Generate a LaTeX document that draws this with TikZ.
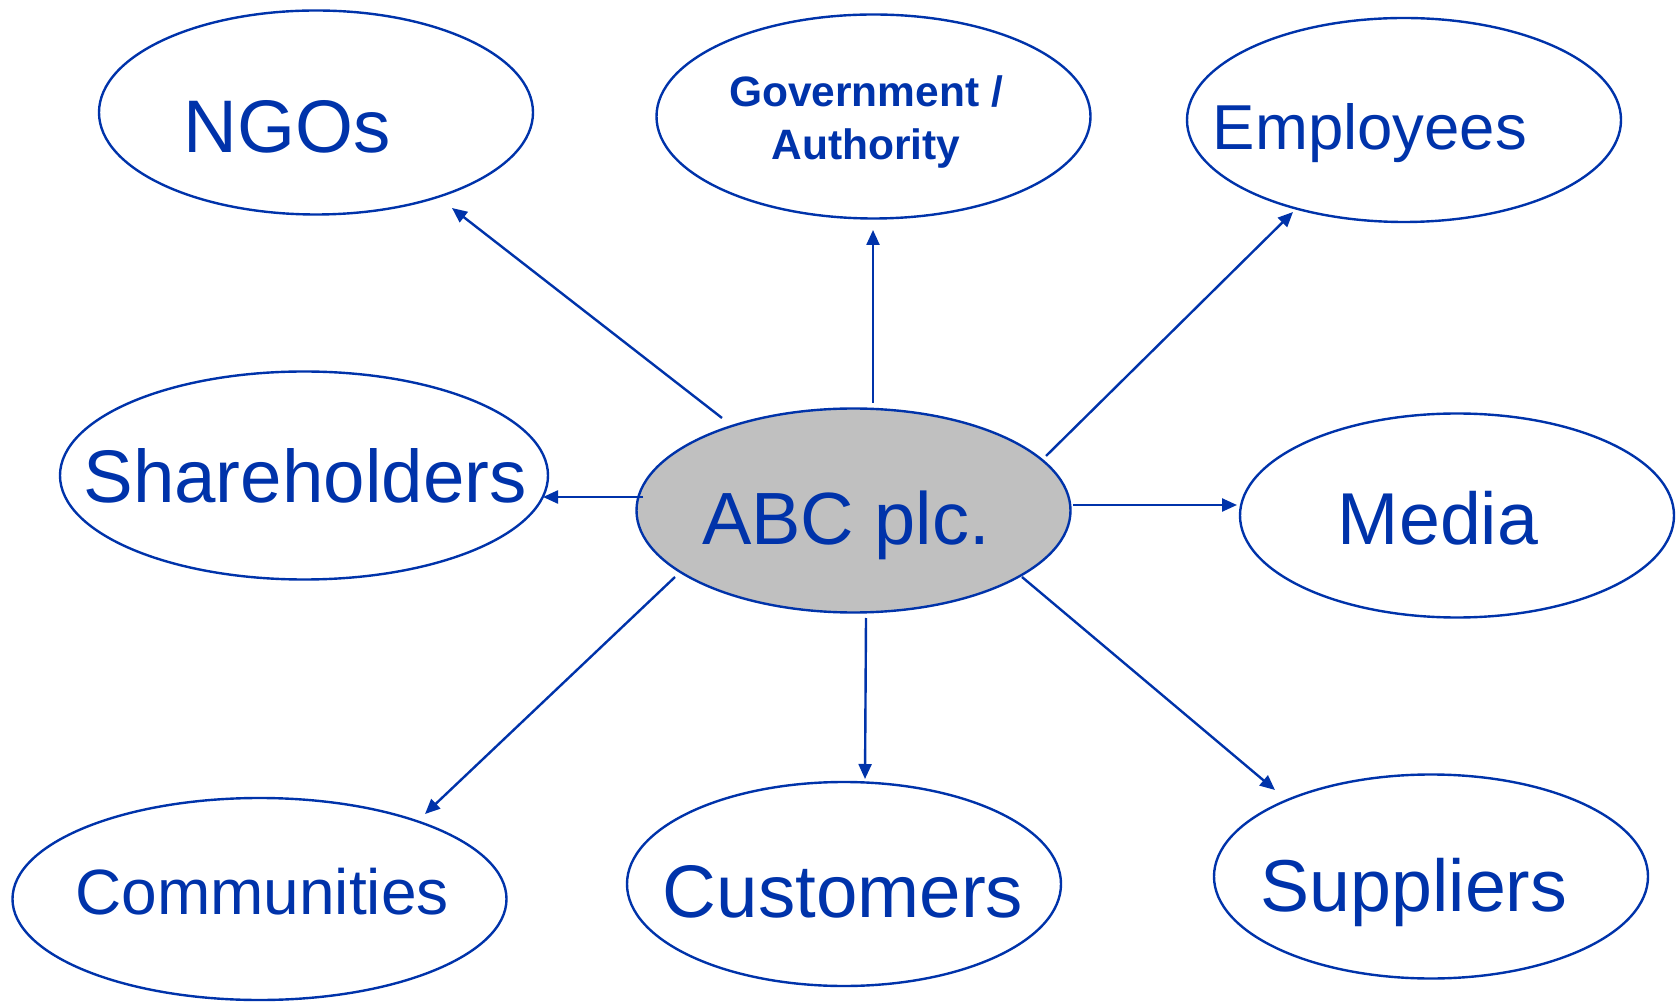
\documentclass[tikz,border=0pt]{standalone}
\usepackage{fontspec}
\setmainfont{Liberation Sans}
\usetikzlibrary{shapes.geometric,arrows.meta,calc}
\definecolor{myblue}{RGB}{0,51,170}
\definecolor{mygray}{RGB}{192,192,192}
\begin{document}
\begin{tikzpicture}[x=1pt,y=1pt,
  ell/.style={ellipse, draw=myblue, line width=2.4pt, inner sep=0pt, minimum width=434pt, minimum height=204pt},
  lbl/.style={text=myblue, inner sep=0pt, anchor=base},
  arr/.style={draw=myblue, line width=2.4pt, -{Triangle[length=15pt,width=13pt]}}]
\useasboundingbox (0,0) rectangle (1677,1002);
% ellipses
\node[ell] (ngo) at (316,889.5) {};
\node[ell] (gov) at (873.5,885.5) {};
\node[ell] (emp) at (1404,882) {};
\node[ell, minimum width=488pt, minimum height=208pt] (sh) at (304,526.5) {};
\node[ell, fill=mygray] (abc) at (853.5,491.5) {};
\node[ell] (med) at (1457,486.5) {};
\node[ell, minimum width=494pt, minimum height=202pt] (com) at (259.5,103) {};
\node[ell] (cus) at (844,118) {};
\node[ell] (sup) at (1431,125.5) {};
% labels
\node[lbl] (ngoL) at (287,849) {\fontsize{74.5}{88}\selectfont NGOs};
\node[text=myblue, inner sep=0pt, align=center, font=\bfseries\fontsize{42.5}{53}\selectfont] (govL) at (866,880) {Government /\\Authority};
\node[lbl] (empL) at (1370,852) {\fontsize{63.5}{75}\selectfont Employees};
\node[lbl] (shL) at (305,499) {\fontsize{74.5}{88}\selectfont Shareholders};
\node[lbl] (abcL) at (846,457) {\fontsize{74}{88}\selectfont ABC plc.};
\node[lbl] (medL) at (1438,457) {\fontsize{73.5}{88}\selectfont Media};
\node[lbl] (comL) at (262,88) {\fontsize{64}{75}\selectfont Communities};
\node[lbl] (cusL) at (843,85) {\fontsize{74.5}{88}\selectfont Customers};
\node[lbl] (supL) at (1414,91) {\fontsize{73.5}{88}\selectfont Suppliers};
% connectors
\draw[arr] ($(abc)+(-131.5,92.5)$) -- ($(ngo)+(136,-95.5)$);
\draw[arr] ($(abc)+(19.5,107.5)$) -- ($(gov)+(-0.5,-113.5)$);
\draw[arr] ($(abc)+(192.5,54.5)$) -- ($(emp)+(-111,-92)$);
\draw[arr] ($(abc)+(-210.5,13.5)$) -- ($(sh)+(239,-21.5)$);
\draw[arr] ($(abc)+(219.5,5.5)$) -- ($(med)+(-220,10.5)$);
\draw[arr] ($(abc)+(-178.5,-66.5)$) -- ($(com)+(165.5,85)$);
\draw[arr] ($(abc)+(12.5,-107.5)$) -- ($(cus)+(21,105)$);
\draw[arr] ($(abc)+(168.5,-66.5)$) -- ($(sup)+(-156,86.5)$);
\end{tikzpicture}
\end{document}
